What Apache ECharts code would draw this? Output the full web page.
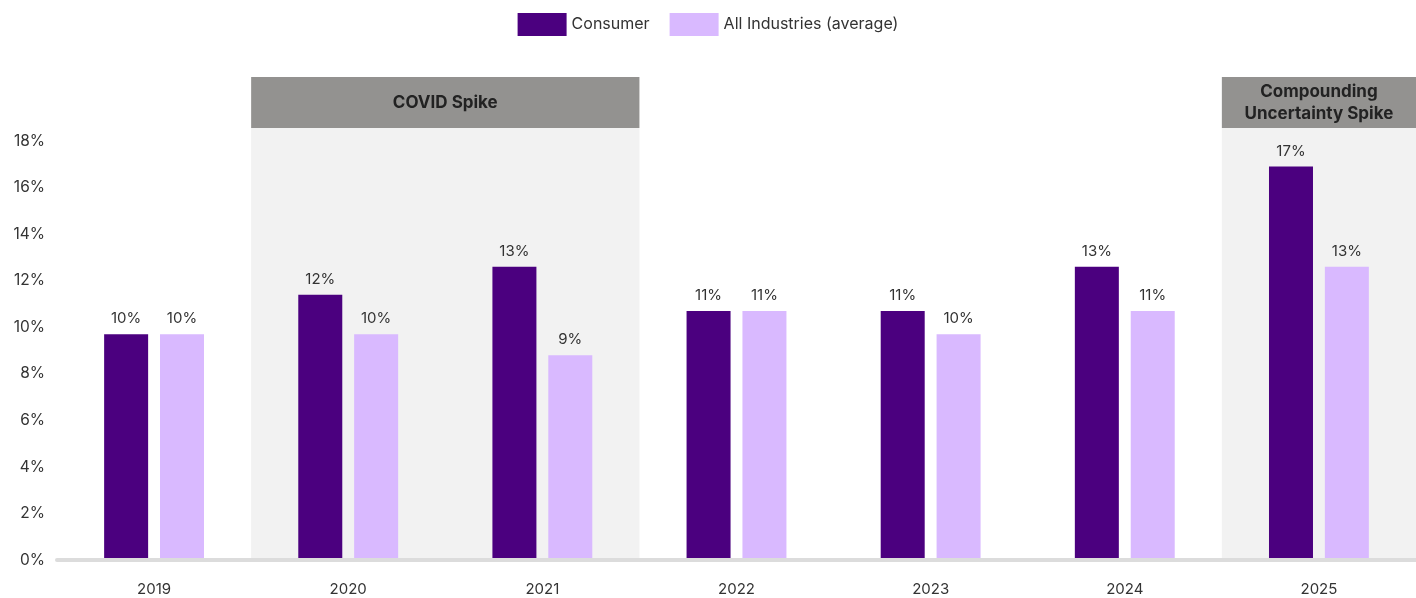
<!DOCTYPE html>
<html>
<head>
<meta charset="utf-8">
<script src="https://cdn.jsdelivr.net/npm/echarts@6/dist/echarts.min.js"></script>
<style>html,body{margin:0;padding:0;background:#fff}#c{width:1416px;height:598px}</style>
</head>
<body>
<div id="c"></div>
<script>
const categories = ['2019','2020','2021','2022','2023','2024','2025'];
const consumer = [9.7, 11.4, 12.6, 10.7, 10.7, 12.6, 16.9];
const allIndustries = [9.7, 9.7, 8.8, 10.7, 9.7, 10.7, 12.6];
const consumerLabels = ['10%','12%','13%','11%','11%','13%','17%'];
const allLabels = ['10%','10%','9%','11%','10%','11%','13%'];
const bands = [
  {name: 'COVID Spike', from: '2020', to: '2021'},
  {name: 'Compounding\nUncertainty Spike', from: '2025', to: '2025'}
];
const yTicksMax = 18;
const bandTop = 18.56;
const headerTop = 20.75;

const FONT = 'Inter, "Noto Sans", sans-serif';
const areas = [];
bands.forEach(b => {
  const i0 = categories.indexOf(b.from) - 0.5;
  const i1 = categories.indexOf(b.to) + 0.5;
  areas.push([{xAxis: i0, yAxis: 0, itemStyle: {color: '#f2f2f2'}}, {xAxis: i1, yAxis: bandTop}]);
  areas.push([{xAxis: i0, yAxis: bandTop, name: b.name, itemStyle: {color: '#939290'}}, {xAxis: i1, yAxis: headerTop}]);
});

const chart = echarts.init(document.getElementById('c'));
chart.setOption({
  animation: false,
  textStyle: {fontFamily: FONT},
  legend: {
    data: ['Consumer', 'All Industries (average)'],
    top: 8, left: 'center',
    itemWidth: 49, itemHeight: 23, itemGap: 20,
    icon: 'rect',
    textStyle: {fontSize: 16, color: '#333', fontFamily: FONT, lineHeight: 23}
  },
  grid: {left: 57, right: 0, top: 77, bottom: 38},
  xAxis: [
    {
      type: 'category', data: categories,
      offset: 3, z: 10,
      axisLine: {show: true, lineStyle: {color: '#dcdcdc', width: 4}},
      axisTick: {show: false},
      axisLabel: {fontSize: 15, color: '#333', margin: 19, fontFamily: FONT}
    },
    {type: 'value', min: -0.5, max: categories.length - 0.5, show: false}
  ],
  yAxis: {
    type: 'value', min: 0, max: headerTop, interval: 2,
    splitLine: {show: false},
    axisLine: {show: false}, axisTick: {show: false},
    axisLabel: {
      fontSize: 15.5, color: '#333', margin: 12, fontFamily: FONT,
      formatter: v => (v <= yTicksMax && v % 2 === 0) ? v + '%' : ''
    }
  },
  series: [
    {
      name: 'bands', type: 'scatter', xAxisIndex: 1, data: [], z: 0, silent: true,
      markArea: {
        silent: true,
        label: {
          show: true, position: 'inside', color: '#222', fontSize: 17, fontWeight: 'bold',
          lineHeight: 22, fontFamily: FONT
        },
        data: areas
      }
    },
    {
      name: 'Consumer', type: 'bar', data: consumer, barWidth: 44, barGap: '27%',
      itemStyle: {color: '#4b007f'}, z: 3,
      label: {show: true, position: 'top', distance: 8, fontSize: 15, color: '#333', fontFamily: FONT,
        formatter: p => consumerLabels[p.dataIndex]}
    },
    {
      name: 'All Industries (average)', type: 'bar', data: allIndustries, barWidth: 44,
      itemStyle: {color: '#d9b9ff'}, z: 3,
      label: {show: true, position: 'top', distance: 8, fontSize: 15, color: '#333', fontFamily: FONT,
        formatter: p => allLabels[p.dataIndex]}
    }
  ]
});
</script>
</body>
</html>
